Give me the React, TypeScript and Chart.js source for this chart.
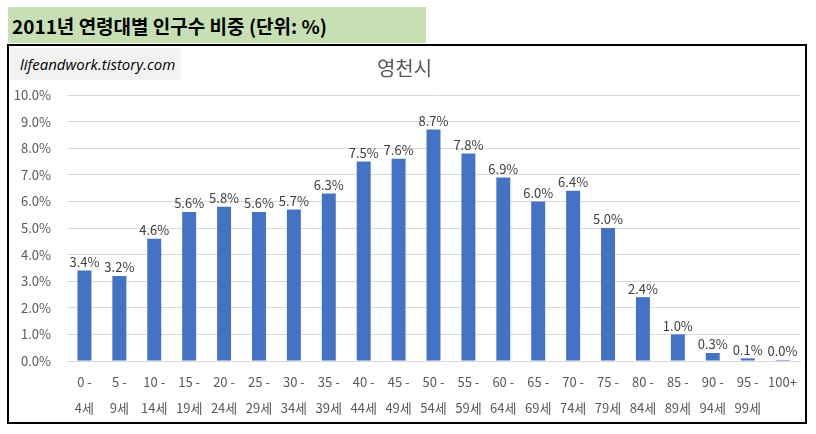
import React, { useEffect, useRef } from 'react';
import { Chart, registerables } from 'chart.js';

Chart.register(...registerables);

const ageGroups: string[][] = [
  ['0 -', '4세'], ['5 -', '9세'], ['10 -', '14세'], ['15 -', '19세'], ['20 -', '24세'],
  ['25 -', '29세'], ['30 -', '34세'], ['35 -', '39세'], ['40 -', '44세'], ['45 -', '49세'],
  ['50 -', '54세'], ['55 -', '59세'], ['60 -', '64세'], ['65 -', '69세'], ['70 -', '74세'],
  ['75 -', '79세'], ['80 -', '84세'], ['85 -', '89세'], ['90 -', '94세'], ['95 -', '99세'],
  ['100+'],
];

// population share (%), 2011, 영천시
const shares: number[] = [
  3.4, 3.2, 4.6, 5.6, 5.8, 5.6, 5.7, 6.3, 7.5, 7.6, 8.7,
  7.8, 6.9, 6.0, 6.4, 5.0, 2.4, 1.0, 0.3, 0.1, 0.04,
];

const yTicks: number[] = [0, 1, 2, 3, 4, 5, 6, 7, 8, 9, 10];

const FONT = '"Noto Sans CJK KR", "Noto Sans", sans-serif';

const valueLabels = {
  id: 'valueLabels',
  afterDatasetsDraw(chart: any) {
    const ctx = chart.ctx;
    const meta = chart.getDatasetMeta(0);
    ctx.save();
    ctx.font = `13px ${FONT}`;
    ctx.fillStyle = '#404040';
    ctx.textAlign = 'center';
    ctx.textBaseline = 'bottom';
    meta.data.forEach((bar: any, i: number) => {
      const v = chart.data.datasets[0].data[i] as number;
      ctx.fillText(v.toFixed(1) + '%', bar.x, bar.y - 2);
    });
    ctx.restore();
  },
};

const App: React.FC = () => {
  const canvasRef = useRef<HTMLCanvasElement | null>(null);
  const chartRef = useRef<Chart<'bar'> | null>(null);

  useEffect(() => {
    document.body.style.margin = '0';
    const ctx = canvasRef.current?.getContext('2d');
    if (!ctx) return;

    chartRef.current = new Chart(ctx, {
      type: 'bar',
      data: {
        labels: ageGroups,
        datasets: [
          {
            label: '인구수 비중',
            data: shares,
            backgroundColor: '#4472C4',
            categoryPercentage: 1,
            barPercentage: 0.4,
          },
        ],
      },
      options: {
        animation: false,
        responsive: true,
        maintainAspectRatio: false,
        layout: { padding: { left: 0, right: 5, top: 0, bottom: 0 } },
        plugins: {
          legend: { display: false },
          tooltip: { enabled: false },
          title: {
            display: true,
            text: '영천시',
            color: '#595959',
            font: { family: FONT, size: 20, weight: 'normal' },
            padding: { top: 10, bottom: 15 },
          },
        },
        scales: {
          x: {
            grid: { display: false },
            border: { color: '#D9D9D9' },
            ticks: {
              color: '#595959',
              font: { family: FONT, size: 13, lineHeight: 2 },
              padding: 0,
              maxRotation: 0,
              minRotation: 0,
              autoSkip: false,
            },
            afterFit: (scale: any) => {
              scale.height = 61;
            },
          },
          y: {
            min: 0,
            max: 10,
            afterBuildTicks: (scale: any) => {
              scale.ticks = yTicks.map((v) => ({ value: v }));
            },
            grid: { color: '#D9D9D9', drawTicks: false },
            border: { display: false },
            ticks: {
              color: '#595959',
              font: { family: FONT, size: 13 },
              padding: 16,
              callback: (v: any) => Number(v).toFixed(1) + '%',
            },
            afterFit: (scale: any) => {
              scale.width = 58;
            },
          },
        },
      },
      plugins: [valueLabels],
    });

    return () => {
      if (chartRef.current) {
        chartRef.current.destroy();
        chartRef.current = null;
      }
    };
  }, []);

  return (
    <div style={{ position: 'relative', width: 816, height: 434, background: '#fff' }}>
      <div
        style={{
          position: 'absolute',
          left: 8,
          top: 7,
          width: 418,
          height: 36,
          background: '#C6E0B4',
          boxSizing: 'border-box',
          padding: '0 0 0 4px',
          lineHeight: '38px',
          fontFamily: FONT,
          fontWeight: 'bold',
          fontSize: 19,
          color: '#000',
          whiteSpace: 'nowrap',
        }}
      >
        2011년 연령대별 인구수 비중 (단위: %)
      </div>
      <div
        style={{
          position: 'absolute',
          left: 7,
          top: 44,
          width: 800,
          height: 380,
          border: '2px solid #000',
          boxSizing: 'border-box',
        }}
      >
        <div style={{ position: 'relative', width: 796, height: 376 }}>
          <canvas ref={canvasRef} />
        </div>
      </div>
      <div
        style={{
          position: 'absolute',
          left: 10,
          top: 48,
          width: 171,
          height: 32,
          background: '#F2F2F2',
          boxSizing: 'border-box',
          paddingLeft: 10,
          lineHeight: '32px',
          fontFamily: '"Open Sans", sans-serif',
          fontStyle: 'italic',
          fontSize: 15,
          color: '#000',
          whiteSpace: 'nowrap',
        }}
      >
        lifeandwork.tistory.com
      </div>
    </div>
  );
};

export default App;
